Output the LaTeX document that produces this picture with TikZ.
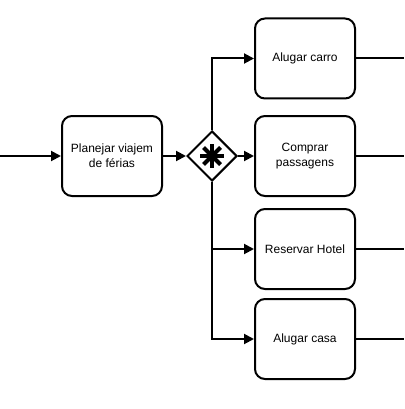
\documentclass[tikz,border=0pt]{standalone}
\usepackage{fontspec}
\setmainfont{Liberation Sans}
\usetikzlibrary{shapes.geometric,arrows.meta}

\tikzset{
	task/.style={draw, line width=2pt, rounded corners=10pt, minimum width=100pt, minimum height=80pt, align=center, font=\fontsize{12}{15}\selectfont},
	gate/.style={draw, diamond, line width=2pt, minimum width=50pt, minimum height=50pt, inner sep=0pt},
	flow/.style={line width=2pt, -{Triangle[length=10pt,width=10pt]}},
	link/.style={line width=2pt}
}

\begin{document}
\begin{tikzpicture}[x=1pt, y=-1pt]
	\useasboundingbox (0,0) rectangle (404,409);

	\node[task] (plan) at (112,156) {Planejar viajem\\de férias};
	\node[gate] (gw) at (212,156) {};
	\draw [line width=4pt] (200,156) -- (224,156);
	\draw [line width=4pt] (212,144) -- (212,168);
	\draw [line width=4pt] (203.5,147.5) -- (220.5,164.5);
	\draw [line width=4pt] (203.5,164.5) -- (220.5,147.5);

	\node[task] (carro) at (305,58.5) {Alugar carro};
	\node[task] (pass) at (305,156) {Comprar\\passagens};
	\node[task] (hotel) at (305,249) {Reservar Hotel};
	\node[task] (casa) at (305,339) {Alugar casa};

	\coordinate (start) at (0,156);
	\coordinate (endA) at (404,58.5);
	\coordinate (endB) at (404,156);
	\coordinate (endC) at (404,249);
	\coordinate (endD) at (404,339);

	\draw [flow] (start) -- (plan);
	\draw [flow] (plan) -- (gw);
	\draw [flow] (gw) -- (pass);
	\draw [flow] (gw.north) |- (carro);
	\draw [flow] (gw.south) |- (hotel);
	\draw [flow] (gw.south) |- (casa);

	\draw [link] (carro) -- (endA);
	\draw [link] (pass) -- (endB);
	\draw [link] (hotel) -- (endC);
	\draw [link] (casa) -- (endD);
\end{tikzpicture}
\end{document}
